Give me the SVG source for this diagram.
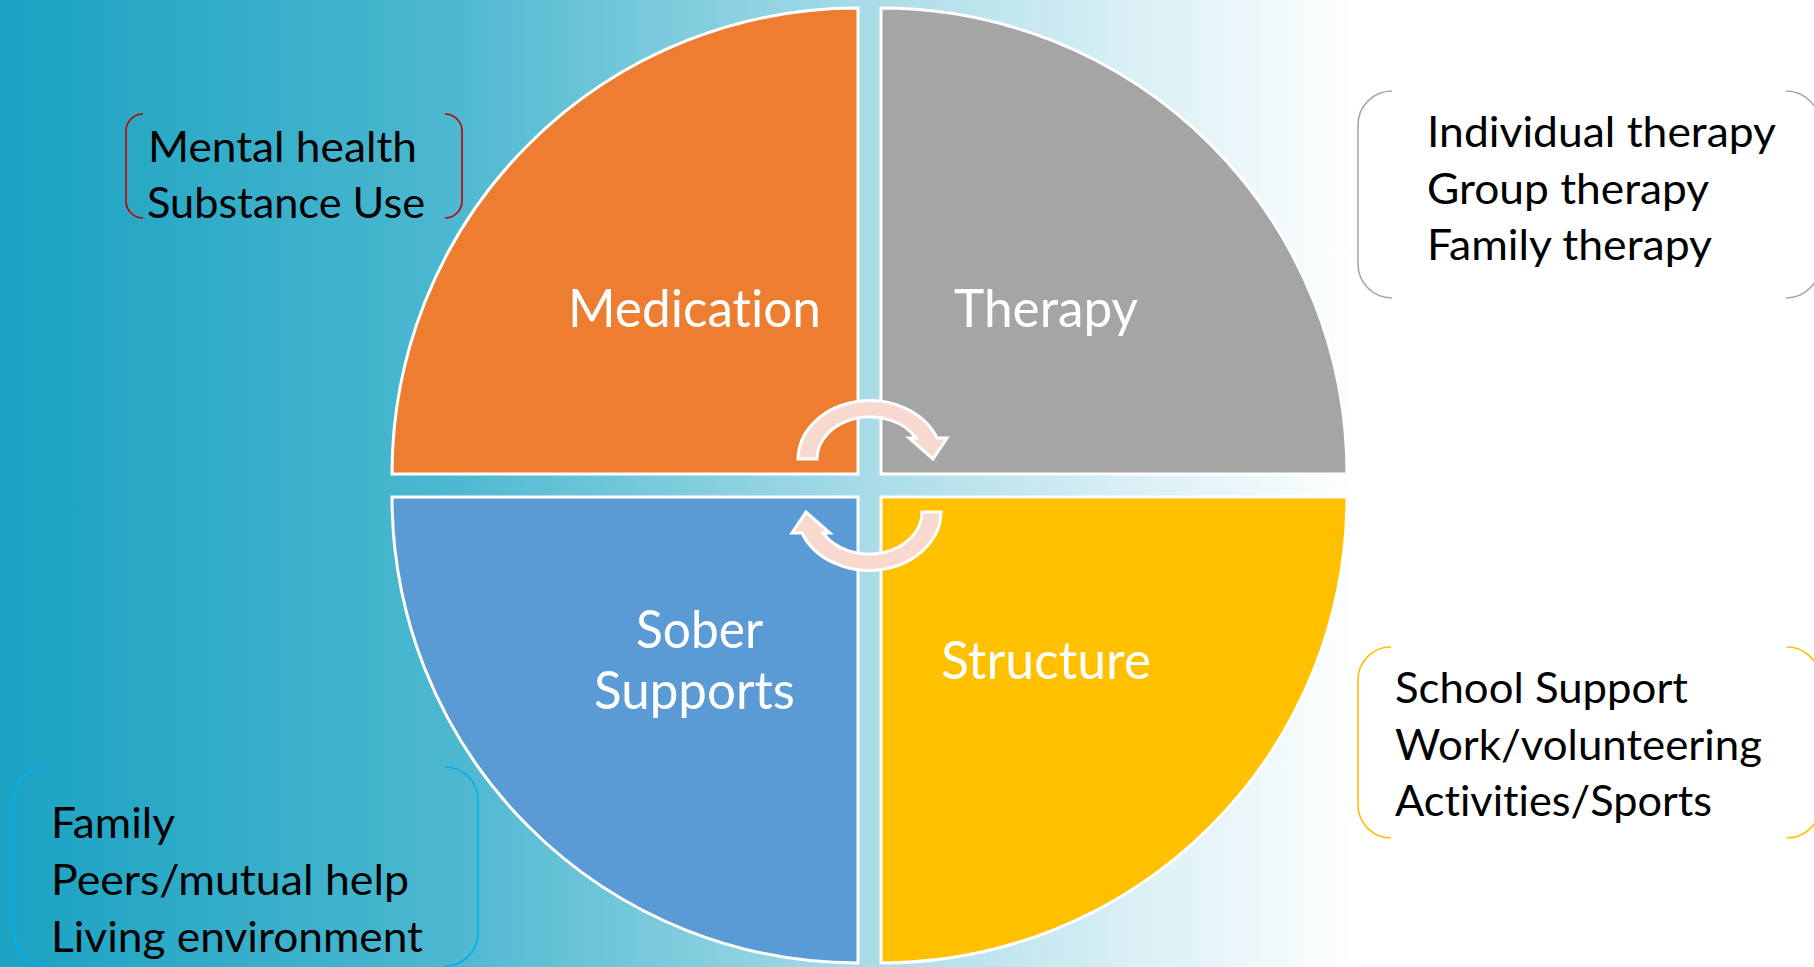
<svg xmlns="http://www.w3.org/2000/svg" width="1814" height="967" viewBox="0 0 1814 967">
  <defs>
    <linearGradient id="bg" gradientUnits="userSpaceOnUse" x1="0" y1="0" x2="1814" y2="0">
      <stop offset="0" stop-color="#1AA2C2"/>
      <stop offset="0.25" stop-color="#4DB8D0"/>
      <stop offset="0.48" stop-color="#A9DCE8"/>
      <stop offset="0.62" stop-color="#D8EFF5"/>
      <stop offset="0.75" stop-color="#FFFFFF"/>
      <stop offset="1" stop-color="#FFFFFF"/>
    </linearGradient>
    <style>
      text { font-variant-ligatures: none; font-feature-settings: "liga" 0, "clig" 0; }
      .quad { stroke: #FFFFFF; stroke-width: 3; }
      .label { font-family: Lato, "Open Sans", "Liberation Sans", sans-serif; font-size: 53px; fill: #FFFFFF; }
      .side { font-family: Lato, "Open Sans", "Liberation Sans", sans-serif; font-size: 43px; fill: #000000; }
      .brk { fill: none; stroke-width: 1.6; }
      .cyc { fill: #F8D9CF; stroke: #FFFFFF; stroke-width: 3; stroke-linejoin: miter; }
    </style>
  </defs>

  <rect x="0" y="0" width="1814" height="967" fill="url(#bg)"/>

  <!-- four quarter-circle segments -->
  <g id="medication">
    <path class="quad" fill="#ED7D31" d="M858,474 H392 A466,466 0 0 1 858,8 Z"/>
    <text class="label" x="568" y="327" textLength="253" lengthAdjust="spacingAndGlyphs">Medication</text>
  </g>
  <g id="therapy">
    <path class="quad" fill="#A5A5A5" d="M881,474 V8 A466,466 0 0 1 1347,474 Z"/>
    <text class="label" x="954" y="327" textLength="184" lengthAdjust="spacingAndGlyphs">Therapy</text>
  </g>
  <g id="sober-supports">
    <path class="quad" fill="#5B9BD5" d="M858,497 V963 A466,466 0 0 1 392,497 Z"/>
    <text class="label" x="636" y="648" textLength="127" lengthAdjust="spacingAndGlyphs">Sober</text>
    <text class="label" x="594" y="709" textLength="201" lengthAdjust="spacingAndGlyphs">Supports</text>
  </g>
  <g id="structure">
    <path class="quad" fill="#FFC000" d="M881,497 H1347 A466,466 0 0 1 881,963 Z"/>
    <text class="label" x="941" y="679" textLength="210" lengthAdjust="spacingAndGlyphs">Structure</text>
  </g>

  <!-- cycle arrows between the segments -->
  <g id="connectors">
    <path id="cycle-top" class="cyc" d="M798,459 A72,59 0 0 1 937,438 L947,438 L933,459 L909,438 L916,438 A53,42 0 0 0 817,459 Z"/>
    <path id="cycle-bottom" class="cyc" transform="rotate(180 869.5 485.5)" d="M798,459 A72,59 0 0 1 937,438 L947,438 L933,459 L909,438 L916,438 A53,42 0 0 0 817,459 Z"/>
  </g>

  <!-- bracketed note groups -->
  <g id="note-medication">
    <path class="brk" stroke="#C00000" d="M143,114 A17,17 0 0 0 126,131 V201 A17,17 0 0 0 143,218"/>
    <path class="brk" stroke="#C00000" d="M445,114 A17,17 0 0 1 462,131 V201 A17,17 0 0 1 445,218"/>
    <text class="side" x="148" y="162" textLength="269" lengthAdjust="spacingAndGlyphs">Mental health</text>
    <text class="side" x="147" y="218" textLength="278" lengthAdjust="spacingAndGlyphs">Substance Use</text>
  </g>
  <g id="note-therapy">
    <path class="brk" stroke="#A6A6A6" d="M1392,91 A34,34 0 0 0 1358,125 V264 A34,34 0 0 0 1392,298"/>
    <path class="brk" stroke="#A6A6A6" d="M1786,91 A34,34 0 0 1 1820,125 V264 A34,34 0 0 1 1786,298"/>
    <text class="side" x="1427" y="147" textLength="349" lengthAdjust="spacingAndGlyphs">Individual therapy</text>
    <text class="side" x="1427" y="204" textLength="282" lengthAdjust="spacingAndGlyphs">Group therapy</text>
    <text class="side" x="1427" y="260" textLength="285" lengthAdjust="spacingAndGlyphs">Family therapy</text>
  </g>
  <g id="note-structure">
    <path class="brk" stroke="#FFC000" d="M1391,647 A33,33 0 0 0 1358,680 V805 A33,33 0 0 0 1391,838"/>
    <path class="brk" stroke="#FFC000" d="M1787,647 A33,33 0 0 1 1820,680 V805 A33,33 0 0 1 1787,838"/>
    <text class="side" x="1395" y="703" textLength="293" lengthAdjust="spacingAndGlyphs">School Support</text>
    <text class="side" x="1395" y="760" textLength="367" lengthAdjust="spacingAndGlyphs">Work/volunteering</text>
    <text class="side" x="1395" y="816" textLength="317" lengthAdjust="spacingAndGlyphs">Activities/Sports</text>
  </g>
  <g id="note-supports">
    <path class="brk" stroke="#00B0F0" d="M47,767 A33,33 0 0 0 14,800 V933 A33,33 0 0 0 47,966"/>
    <path class="brk" stroke="#00B0F0" d="M445,767 A33,33 0 0 1 478,800 V933 A33,33 0 0 1 445,966"/>
    <text class="side" x="51" y="838" textLength="124" lengthAdjust="spacingAndGlyphs">Family</text>
    <text class="side" x="51" y="895" textLength="358" lengthAdjust="spacingAndGlyphs">Peers/mutual help</text>
    <text class="side" x="51" y="952" textLength="372" lengthAdjust="spacingAndGlyphs">Living environment</text>
  </g>
</svg>
